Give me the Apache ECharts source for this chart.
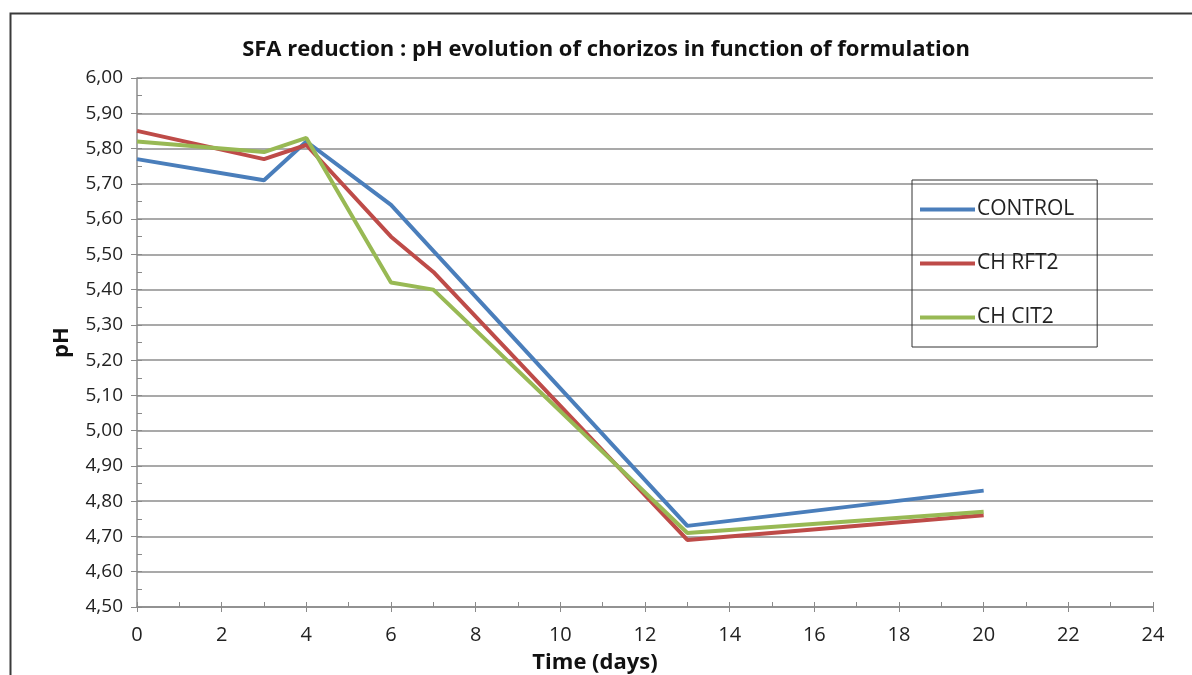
<!DOCTYPE html>
<html>
<head>
<meta charset="utf-8">
<script src="https://cdn.jsdelivr.net/npm/echarts@6/dist/echarts.min.js"></script>
<style>html,body{margin:0;padding:0;background:#fff}#c{width:1192px;height:675px}</style>
</head>
<body>
<div id="c"></div>
<script>
const days = [0, 3, 4, 6, 7, 13, 20];
const control = [5.77, 5.71, 5.82, 5.64, 5.51, 4.73, 4.83];
const chRft2 = [5.85, 5.77, 5.81, 5.55, 5.45, 4.69, 4.76];
const chCit2 = [5.82, 5.79, 5.83, 5.42, 5.40, 4.71, 4.77];
const seriesNames = ['CONTROL', 'CH RFT2', 'CH CIT2'];
const titleText = 'SFA reduction : pH evolution of chorizos in function of formulation';
const xTitle = 'Time (days)';
const yTitle = 'pH';

const FONT = '"Open Sans", sans-serif';
const pair = (arr) => days.map((d, i) => [d, arr[i]]);
const colors = ['#4a7ebb', '#be4b48', '#98b954'];

const chart = echarts.init(document.getElementById('c'), null, {renderer: 'canvas'});
chart.setOption({
  animation: false,
  backgroundColor: '#fff',
  graphic: [{
    type: 'rect', left: 8, top: 11, shape: {width: 1200, height: 700},
    style: {fill: 'none', stroke: '#3a3a3a', lineWidth: 2}, silent: true
  }],
  title: [{
    text: titleText, left: 601, top: 34, textAlign: 'center',
    textStyle: {fontFamily: FONT, fontWeight: 'bold', fontSize: 22, color: '#111'}
  }, {
    text: xTitle, left: 590, top: 647, textAlign: 'center',
    textStyle: {fontFamily: FONT, fontWeight: 'bold', fontSize: 22, color: '#111'}
  }],
  legend: {
    orient: 'vertical', left: 912, top: 180,
    padding: [19, 23, 19, 8], itemGap: 33,
    borderColor: '#333', borderWidth: 1,
    icon: 'rect', itemWidth: 55, itemHeight: 4,
    textStyle: {fontFamily: FONT, fontSize: 21, color: '#222', padding: [0, 0, 0, -3]},
    data: seriesNames
  },
  grid: {left: 137, right: 39, top: 78, bottom: 68},
  xAxis: [{
    type: 'value', min: 0, max: 24, interval: 2,
    axisLine: {lineStyle: {color: '#8a8a8a', width: 1.5}},
    axisTick: {show: true, inside: false, length: 5, lineStyle: {color: '#8a8a8a'}},
    axisLabel: {fontFamily: FONT, fontSize: 20, color: '#222', margin: 18},
    splitLine: {show: false}
  }, {
    type: 'value', min: 0, max: 24, interval: 1, position: 'bottom',
    axisLine: {show: false},
    axisTick: {show: true, inside: true, length: 5, lineStyle: {color: '#8a8a8a'}},
    axisLabel: {show: false}, splitLine: {show: false}
  }],
  yAxis: [{
    type: 'value', min: 4.5, max: 6.0, interval: 0.1,
    name: yTitle, nameLocation: 'middle', nameGap: 64, nameRotate: 90,
    nameTextStyle: {fontFamily: FONT, fontWeight: 'bold', fontSize: 22, color: '#111'},
    axisLine: {show: true, lineStyle: {color: '#8a8a8a', width: 1.5}},
    axisTick: {show: true, inside: false, length: 6, lineStyle: {color: '#8a8a8a'}},
    axisLabel: {fontFamily: FONT, fontSize: 19, color: '#222', margin: 14,
      formatter: (v) => v.toFixed(2).replace('.', ',')},
    splitLine: {show: true, lineStyle: {color: '#8c8c8c', width: 1.5}}
  }, {
    type: 'value', min: 4.5, max: 6.0, interval: 0.05, position: 'left', offset: 0,
    axisLine: {show: false},
    axisTick: {show: true, inside: true, length: 5, lineStyle: {color: '#8a8a8a'}},
    axisLabel: {show: false}, splitLine: {show: false}
  }],
  series: [
    {name: seriesNames[0], type: 'line', data: pair(control), symbol: 'none',
     lineStyle: {width: 4, color: colors[0]}, itemStyle: {color: colors[0]}, z: 3},
    {name: seriesNames[1], type: 'line', data: pair(chRft2), symbol: 'none',
     lineStyle: {width: 4, color: colors[1]}, itemStyle: {color: colors[1]}, z: 4},
    {name: seriesNames[2], type: 'line', data: pair(chCit2), symbol: 'none',
     lineStyle: {width: 4, color: colors[2]}, itemStyle: {color: colors[2]}, z: 5}
  ]
});
</script>
</body>
</html>
